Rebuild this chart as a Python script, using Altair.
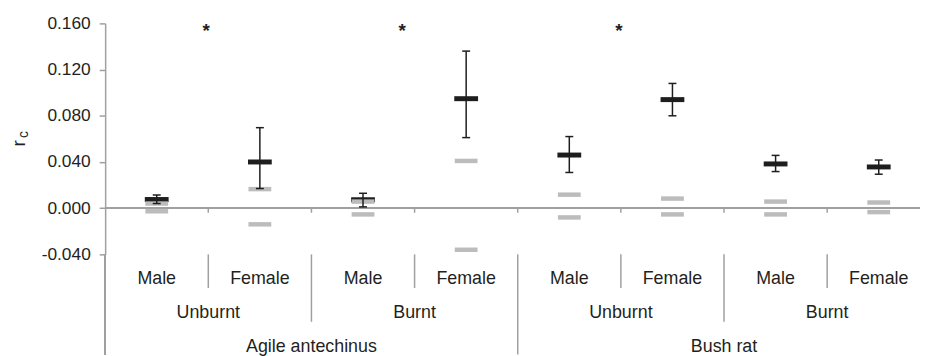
import altair as alt
import pandas as pd

sex = ["Male", "Female", "Male", "Female", "Male", "Female", "Male", "Female"]
fire = ["Unburnt", "Unburnt", "Burnt", "Burnt", "Unburnt", "Unburnt", "Burnt", "Burnt"]
species = ["Agile antechinus"] * 4 + ["Bush rat"] * 4
mean_rc = [0.0075, 0.0400, 0.0073, 0.0948, 0.0460, 0.0940, 0.0383, 0.0357]
ci_high = [0.0114, 0.0697, 0.0129, 0.1360, 0.0620, 0.1080, 0.0457, 0.0417]
ci_low = [0.0040, 0.0170, 0.0011, 0.0611, 0.0309, 0.0800, 0.0317, 0.0294]
null_high = [0.0040, 0.0165, 0.0057, 0.0409, 0.0117, 0.0083, 0.0057, 0.0049]
null_low = [-0.0027, -0.0140, -0.0054, -0.0360, -0.0080, -0.0054, -0.0054, -0.0034]
star_pos = [0.98, 2.88, 4.98]
star_val = [0.148, 0.148, 0.148]
y_ticks = [-0.04, 0.0, 0.04, 0.08, 0.12, 0.16]

FONT = "Liberation Sans"
TXT = "#231f20"
AX = "#a0a0a0"
BLK = "#1e1e1e"
GRY = "#bcbcbc"
W, H = 822, 233
XMAX = 7.9

n = len(sex)
df = pd.DataFrame({
    "pos": [i + 0.5 for i in range(n)], "sex": sex, "fire": fire, "species": species,
    "mean": mean_rc, "hi": ci_high, "lo": ci_low, "nh": null_high, "nl": null_low,
})

# group centres and boundaries derived from the category lists
def groups(keys):
    out = []
    start = 0
    for i in range(1, n + 1):
        if i == n or keys[i] != keys[start]:
            out.append((keys[start], start, i))
            start = i
    return out

fire_keys = [s + "|" + f for s, f in zip(species, fire)]
fire_df = pd.DataFrame([{"label": k.split("|")[1], "c": (a + b) / 2} for k, a, b in groups(fire_keys)])
sp_df = pd.DataFrame([{"label": k, "c": (a + b) / 2} for k, a, b in groups(species)])
sp_b = set(b for _, _, b in groups(species))
fire_b = set(b for _, _, b in groups(fire_keys))
sep_rows = []
for b in range(1, n):
    if b in sp_b:
        sep_rows.append({"b": b, "kind": "species"})
    elif b in fire_b:
        sep_rows.append({"b": b, "kind": "fire"})
    else:
        sep_rows.append({"b": b, "kind": "sex"})
sep_df = pd.DataFrame(sep_rows)

xs = alt.Scale(domain=[0, XMAX], nice=False, zero=False)
ys = alt.Scale(domain=[-0.04, 0.16], nice=False, zero=False)
X = alt.X("pos:Q", scale=xs, axis=None)
Y = alt.Y("mean:Q", scale=ys,
          axis=alt.Axis(values=y_ticks, title=None, grid=False,
                        labelExpr="replace(format(datum.value, '.3f'), '\u2212', '-')",
                        labelFont=FONT, labelFontSize=17.5, labelColor=TXT, labelPadding=9,
                        domainColor=AX, domainWidth=1.5, tickColor=AX, tickSize=6, tickWidth=1.5))

base = alt.Chart(df)

zero_line = base.mark_rule(color=AX, strokeWidth=1.5).encode(
    x=alt.value(0), x2=alt.value(W), y=alt.datum(0, scale=ys))
left_ext = base.mark_rule(color=AX, strokeWidth=1.5).encode(
    x=alt.value(0), y=alt.value(H), y2=alt.value(334))

ticks0 = alt.Chart(sep_df).mark_rule(color=AX, strokeWidth=1.5).encode(
    x=alt.X("b:Q", scale=xs, axis=None), y=alt.datum(0, scale=ys), y2=alt.value(191))

sep_sex = alt.Chart(sep_df).transform_filter("datum.kind == 'sex'").mark_rule(color=AX, strokeWidth=1.5).encode(
    x=alt.X("b:Q", scale=xs, axis=None), y=alt.value(H), y2=alt.value(267))
sep_fire = alt.Chart(sep_df).transform_filter("datum.kind == 'fire'").mark_rule(color=AX, strokeWidth=1.5).encode(
    x=alt.X("b:Q", scale=xs, axis=None), y=alt.value(H), y2=alt.value(301))
sep_sp = alt.Chart(sep_df).transform_filter("datum.kind == 'species'").mark_rule(color=AX, strokeWidth=1.5).encode(
    x=alt.X("b:Q", scale=xs, axis=None), y=alt.value(H), y2=alt.value(334))

means = base.mark_tick(orient="horizontal", color=BLK, size=24, thickness=5, opacity=1).encode(x=X, y=Y)
null_hi_m = base.mark_tick(orient="horizontal", color=GRY, size=23, thickness=4.5, opacity=1).encode(
    x=X, y=alt.Y("nh:Q", scale=ys))
null_lo_m = base.mark_tick(orient="horizontal", color=GRY, size=23, thickness=4.5, opacity=1).encode(
    x=X, y=alt.Y("nl:Q", scale=ys))
err = base.mark_rule(color=BLK, strokeWidth=1.5).encode(
    x=X, y=alt.Y("lo:Q", scale=ys), y2="hi:Q")
cap_hi = base.mark_tick(orient="horizontal", color=BLK, size=8, thickness=1.5, opacity=1).encode(
    x=X, y=alt.Y("hi:Q", scale=ys))
cap_lo = base.mark_tick(orient="horizontal", color=BLK, size=8, thickness=1.5, opacity=1).encode(
    x=X, y=alt.Y("lo:Q", scale=ys))

stars = alt.Chart(pd.DataFrame({"x": star_pos, "y": star_val, "t": ["*"] * 3})).mark_text(
    font=FONT, fontSize=19, fontWeight="bold", color=TXT, baseline="alphabetic").encode(
    x=alt.X("x:Q", scale=xs, axis=None), y=alt.Y("y:Q", scale=ys), text="t:N")

sex_lab = base.mark_text(font=FONT, fontSize=18, color=TXT, baseline="alphabetic").encode(
    x=X, y=alt.value(263), text="sex:N")
fire_lab = alt.Chart(fire_df).mark_text(font=FONT, fontSize=18, color=TXT, baseline="alphabetic").encode(
    x=alt.X("c:Q", scale=xs, axis=None), y=alt.value(297), text="label:N")
sp_lab = alt.Chart(sp_df).mark_text(font=FONT, fontSize=18, color=TXT, baseline="alphabetic").encode(
    x=alt.X("c:Q", scale=xs, axis=None), y=alt.value(331), text="label:N")

title_r = base.mark_text(font=FONT, fontSize=19, color=TXT, angle=270, baseline="middle", align="center").encode(
    x=alt.value(-87), y=alt.value(121), text=alt.value("r"))
title_c = base.mark_text(font=FONT, fontSize=14, color=TXT, angle=270, baseline="middle", align="center").encode(
    x=alt.value(-82), y=alt.value(112), text=alt.value("c"))

chart = alt.layer(
    zero_line, left_ext, ticks0, sep_sex, sep_fire, sep_sp,
    means, null_hi_m, null_lo_m, err, cap_hi, cap_lo,
    stars, sex_lab, fire_lab, sp_lab, title_r.transform_filter("datum.pos < 1"),
    title_c.transform_filter("datum.pos < 1"),
).properties(
    width=W, height=H,
    autosize=alt.AutoSizeParams(type="none"),
    padding={"left": 98, "top": 14, "right": 0, "bottom": 101},
).configure_view(stroke=None)

chart.save("out.html", embed_options={"renderer": "svg", "actions": False})
